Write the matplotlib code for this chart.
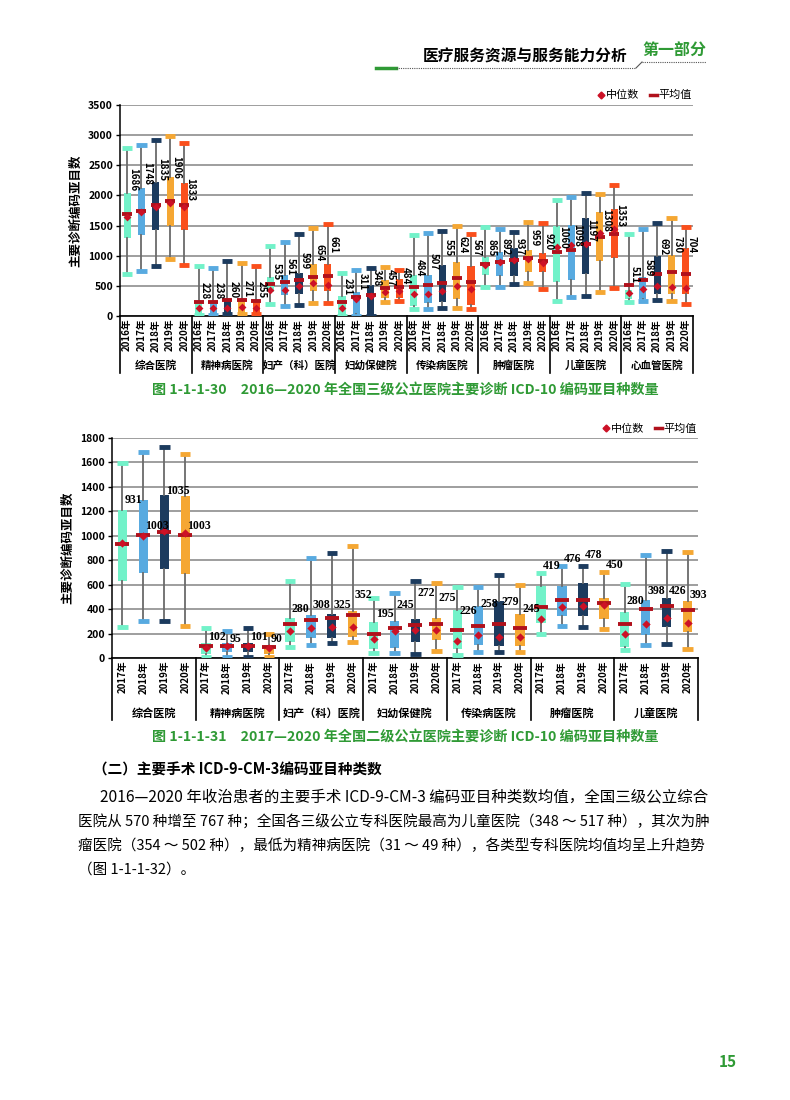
import numpy as np
import matplotlib
matplotlib.use("Agg")
import matplotlib.pyplot as plt
import matplotlib.transforms as mtransforms
from matplotlib.lines import Line2D

plt.rcParams['font.family'] = ['Noto Sans CJK SC', 'DejaVu Sans']
plt.rcParams['axes.unicode_minus'] = False

# ---------------- 图 1-1-1-30  三级公立医院 ----------------
groups1 = ["综合医院", "精神病医院", "妇产（科）医院", "妇幼保健院",
           "传染病医院", "肿瘤医院", "儿童医院", "心血管医院"]
years1 = ["2016年", "2017年", "2018年", "2019年", "2020年"]
# rows = hospital type, cols = year
top1 = [[2780, 2830, 2920, 2990, 2870],
        [822, 790, 905, 878, 822],
        [1156, 1233, 1361, 1455, 1522],
        [705, 767, 794, 811, 755],
        [1342, 1370, 1414, 1492, 1354],
        [1480, 1442, 1398, 1563, 1536],
        [1917, 1972, 2039, 2028, 2167],
        [1356, 1444, 1550, 1622, 1483]]
q3_1 = [[2040, 2120, 2220, 2300, 2210],
        [250, 250, 270, 290, 260],
        [644, 672, 717, 867, 867],
        [328, 394, 517, 605, 611],
        [680, 680, 840, 900, 834],
        [972, 1066, 1121, 1094, 1050],
        [1494, 1510, 1622, 1722, 1778],
        [439, 639, 994, 1011, 1133]]
q1_1 = [[1300, 1350, 1420, 1490, 1430],
        [30, 40, 50, 50, 50],
        [394, 350, 370, 411, 411],
        [10, 33, 0, 300, 300],
        [166, 210, 237, 276, 182],
        [674, 668, 668, 735, 729],
        [567, 605, 694, 917, 967],
        [289, 289, 361, 361, 361]]
low1 = [[700, 750, 830, 950, 850],
        [20, 20, 30, 30, 30],
        [200, 172, 189, 211, 211],
        [0, 0, 0, 230, 244],
        [110, 110, 138, 138, 120],
        [475, 486, 525, 552, 447],
        [250, 317, 333, 394, 472],
        [233, 244, 261, 244, 194]]
mean1 = [[1686, 1748, 1835, 1906, 1833],
         [228, 238, 260, 271, 255],
         [535, 561, 599, 654, 661],
         [231, 311, 348, 457, 484],
         [484, 507, 555, 624, 567],
         [865, 892, 937, 959, 920],
         [1060, 1098, 1197, 1308, 1353],
         [511, 589, 692, 730, 704]]
med1 = [[1650, 1720, 1800, 1870, 1810],
        [128, 130, 140, 150, 140],
        [433, 433, 505, 544, 522],
        [128, 290, 340, 394, 422],
        [365, 365, 420, 497, 442],
        [845, 890, 930, 950, 884],
        [1150, 1178, 1200, 1383, 1439],
        [383, 456, 494, 483, 472]]

# ---------------- 图 1-1-1-31  二级公立医院 ----------------
groups2 = ["综合医院", "精神病医院", "妇产（科）医院", "妇幼保健院",
           "传染病医院", "肿瘤医院", "儿童医院"]
years2 = ["2017年", "2018年", "2019年", "2020年"]
top2 = [[1595, 1685, 1724, 1672],
        [245, 218, 245, 200],
        [628, 822, 858, 915],
        [494, 533, 630, 616],
        [578, 578, 682, 600],
        [698, 755, 755, 704],
        [608, 845, 878, 864]]
q3_2 = [[1213, 1289, 1333, 1322],
        [120, 120, 120, 110],
        [324, 348, 359, 381],
        [291, 299, 319, 325],
        [395, 423, 469, 360],
        [592, 586, 614, 494],
        [376, 477, 491, 464]]
q1_2 = [[628, 697, 727, 686],
        [33, 46, 46, 30],
        [128, 160, 165, 169],
        [73, 82, 128, 150],
        [74, 104, 95, 95],
        [286, 341, 341, 322],
        [87, 191, 254, 213]]
low2 = [[251, 306, 303, 262],
        [11, 11, 11, 10],
        [87, 106, 125, 128],
        [38, 38, 33, 55],
        [27, 49, 49, 49],
        [199, 265, 254, 237],
        [68, 109, 117, 74]]
mean2 = [[931, 1003, 1035, 1003],
         [102, 95, 101, 90],
         [280, 308, 325, 352],
         [195, 245, 272, 275],
         [226, 258, 279, 245],
         [419, 476, 478, 450],
         [280, 398, 426, 393]]
med2 = [[940, 997, 1041, 1019],
        [79, 95, 95, 80],
        [218, 245, 256, 256],
        [155, 225, 232, 232],
        [142, 191, 169, 175],
        [319, 420, 428, 436],
        [196, 281, 325, 286]]

# label anchor heights (layout only; the label text is the mean value)
lab1 = [[2070, 2170, 2230, 2280, 1900],
        [268, 278, 300, 311, 295],
        [600, 670, 770, 910, 1035],
        [340, 430, 490, 490, 520],
        [652, 762, 983, 1039, 983],
        [983, 1011, 1000, 1149, 1094],
        [1122, 1150, 1233, 1400, 1483],
        [539, 650, 1011, 1039, 1039]]
lab2 = [[1289, 1082, 1363, 1082],
        [174, 155, 174, 155],
        [400, 435, 435, 517],
        [359, 435, 532, 491],
        [382, 442, 455, 401],
        [750, 813, 845, 758],
        [469, 551, 551, 518]]

colors1 = ["#72f2c9", "#58aae0", "#1c3b5e", "#f5a733", "#fa4f1c"]
colors2 = ["#72f2c9", "#58aae0", "#1c3b5e", "#f5a733"]
mean_c = "#b0111c"
med_c = "#cc1126"
green = "#2f9a35"

W, H = 790, 1100
fig = plt.figure(figsize=(W / 100, H / 100), dpi=100)


def fx(px):
    return px / W


def fy(py):
    return 1 - py / H


def draw_chart(ax, top, q3, q1, low, mean, med, lab, groups, years, colors,
               ymax, ystep, width, capw, msize, mbar, label_kw, label_dx,
               sep_depth, name_y, tick_fs, name_fs):
    n_g = len(groups)
    n_y = len(years)
    n = n_g * n_y
    for j in range(n_y):
        pos = [g * n_y + j for g in range(n_g)]
        stats = [dict(whishi=top[g][j], q3=q3[g][j], q1=q1[g][j], whislo=low[g][j],
                      med=med[g][j], mean=mean[g][j], fliers=[]) for g in range(n_g)]
        ax.bxp(stats, positions=pos, widths=width, capwidths=capw, patch_artist=True,
               showmeans=True, meanline=False, showfliers=False, manage_ticks=False,
               boxprops=dict(facecolor=colors[j], edgecolor=colors[j], linewidth=0),
               whiskerprops=dict(color="#6a6a6a", linewidth=1.3),
               capprops=dict(color=colors[j], linewidth=3.5, solid_capstyle="butt"),
               medianprops=dict(linewidth=0),
               meanprops=dict(marker="_", markersize=mbar, markeredgewidth=2.8,
                              markeredgecolor=mean_c),
               zorder=3)
        ax.scatter(pos, [med[g][j] for g in range(n_g)], marker="D", s=msize,
                   color=med_c, linewidths=0, zorder=5)
        for g in range(n_g):
            ax.text(pos[g] + label_dx, lab[g][j], str(mean[g][j]), zorder=6, **label_kw)

    ax.set_xlim(-0.5, n - 0.5)
    ax.set_ylim(0, ymax)
    ax.set_yticks(np.arange(0, ymax + 1, ystep))
    ax.yaxis.grid(True, color="#8e8e8e", linewidth=1.2)
    ax.set_axisbelow(True)
    for s in ["top", "right"]:
        ax.spines[s].set_visible(False)
    ax.spines["left"].set_linewidth(1.1)
    ax.spines["bottom"].set_linewidth(1.2)
    ax.tick_params(axis="y", labelsize=7.5, length=3, width=1, pad=2)
    for t in ax.get_yticklabels():
        t.set_fontweight("bold")
    ax.set_xticks(range(n))
    ax.set_xticklabels(years * n_g, rotation=90, fontsize=tick_fs, fontweight="bold")
    ax.tick_params(axis="x", length=0, pad=2)

    trans = mtransforms.blended_transform_factory(ax.transData, ax.transAxes)
    for b in np.arange(-0.5, n, n_y):
        ax.plot([b, b], [0, -sep_depth], transform=trans, color="black",
                linewidth=1.2, clip_on=False)
    for g, name in enumerate(groups):
        ax.text(g * n_y + (n_y - 1) / 2, name_y, name, transform=trans,
                ha="center", va="center", fontsize=name_fs, fontweight="bold")

    handles = [Line2D([], [], marker="D", color=med_c, linestyle="none", markersize=3.5),
               Line2D([], [], color=mean_c, linewidth=2.5)]
    ax.legend(handles, ["中位数", "平均值"], loc="lower right", bbox_to_anchor=(1.01, 0.99),
              ncol=2, frameon=False, fontsize=8, handlelength=0.6, handletextpad=0.15,
              columnspacing=1.0, borderaxespad=0.2)


# chart 1
ax1 = fig.add_axes([fx(120), fy(316), fx(693) - fx(120), fy(105) - fy(316)])
draw_chart(ax1, top1, q3_1, q1_1, low1, mean1, med1, lab1, groups1, years1, colors1,
           3500, 500, 0.5, 0.7, 16, 7.5,
           dict(rotation=270, ha="center", va="bottom", fontsize=7, fontweight="bold"),
           0.42, 0.27, -0.235, 7, 7.6)
ax1.set_ylabel("主要诊断编码亚目数", fontsize=9, fontweight="bold", labelpad=4)

# chart 2
ax2 = fig.add_axes([fx(112), fy(658), fx(698) - fx(112), fy(438) - fy(658)])
draw_chart(ax2, top2, q3_2, q1_2, low2, mean2, med2, lab2, groups2, years2, colors2,
           1800, 200, 0.45, 0.5, 18, 10,
           dict(ha="left", va="center", fontsize=8.5, fontweight="bold",
                family=["Liberation Serif", "DejaVu Serif"]),
           0.1, 0.28, -0.25, 7, 8)
ax2.set_ylabel("主要诊断编码亚目数", fontsize=9, fontweight="bold", labelpad=4)

# captions
fig.text(fx(405), fy(390), "图 1-1-1-30　2016—2020 年全国三级公立医院主要诊断 ICD-10 编码亚目种数量",
         ha="center", va="center", fontsize=10.2, color=green, fontweight="bold")
fig.text(fx(405), fy(737), "图 1-1-1-31　2017—2020 年全国二级公立医院主要诊断 ICD-10 编码亚目种数量",
         ha="center", va="center", fontsize=10.2, color=green, fontweight="bold")

# page header
fig.text(fx(628), fy(57), "医疗服务资源与服务能力分析", ha="right", va="center",
         fontsize=11.3, fontweight="bold")
fig.text(fx(674), fy(51), "第一部分", ha="center", va="center", fontsize=11.5,
         fontweight="bold", color=green)
fig.add_artist(Line2D([fx(376), fx(396)], [fy(68), fy(68)], color=green, linewidth=2.5,
                      transform=fig.transFigure))
fig.add_artist(Line2D([fx(396), fx(636)], [fy(68), fy(68)], color="#555555", linewidth=0.8,
                      linestyle=(0, (1, 1)), transform=fig.transFigure))
fig.add_artist(Line2D([fx(636), fx(642)], [fy(68), fy(62)], color="#555555", linewidth=0.8,
                      transform=fig.transFigure))
fig.add_artist(Line2D([fx(642), fx(706)], [fy(62), fy(62)], color="#555555", linewidth=0.8,
                      linestyle=(0, (1, 1)), transform=fig.transFigure))

# body text
fig.text(fx(93), fy(770), "（二）主要手术 ICD-9-CM-3编码亚目种类数", ha="left", va="center",
         fontsize=10.5, fontweight="bold")
body = ["2016—2020 年收治患者的主要手术 ICD-9-CM-3 编码亚目种类数均值，全国三级公立综合",
        "医院从 570 种增至 767 种；全国各三级公立专科医院最高为儿童医院（348 ～ 517 种），其次为肿",
        "瘤医院（354 ～ 502 种），最低为精神病医院（31 ～ 49 种），各类型专科医院均值均呈上升趋势",
        "（图 1-1-1-32）。"]
body_x = [100, 78, 78, 78]
body_y = [797, 822, 846, 870]
body_fs = [11.15, 10.5, 10.5, 10.5]
for line, x, y, fs in zip(body, body_x, body_y, body_fs):
    fig.text(fx(x), fy(y), line, ha="left", va="center", fontsize=fs)

fig.text(fx(728), fy(1062), "15", ha="center", va="center", fontsize=11,
         fontweight="bold", color=green)

fig.savefig("out.png", dpi=100)
